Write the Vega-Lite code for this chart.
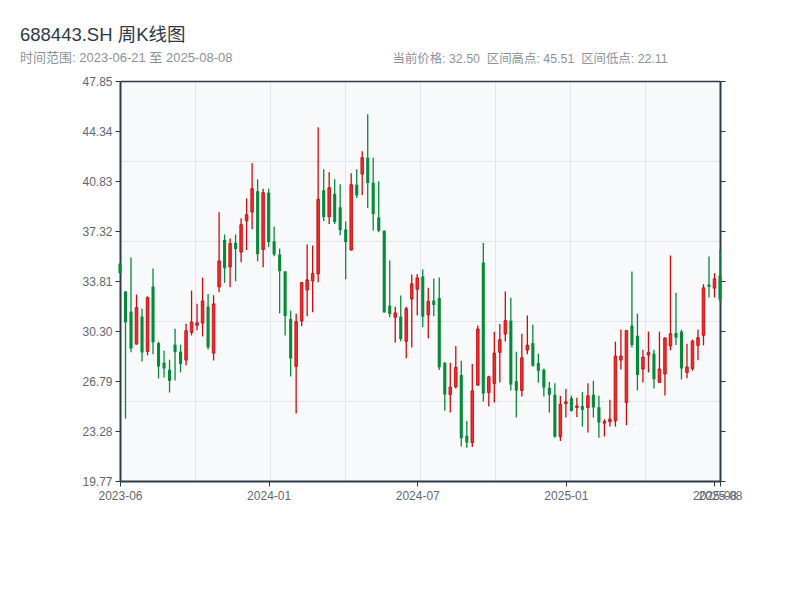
{
"$schema": "https://vega.github.io/schema/vega-lite/v6.json",
"width": 600, "height": 400,
"autosize": {"type": "none"},
"padding": {"left": 120, "top": 81, "right": 80, "bottom": 119},
"background": "#ffffff",
"title": {"text": "688443.SH 周K线图", "subtitle": "时间范围: 2023-06-21 至 2025-08-08", "anchor": "start", "frame": "group", "dx": -100, "offset": -13, "fontSize": 18.5, "fontWeight": "normal", "color": "#2c3a4b", "subtitleFontSize": 13, "subtitleColor": "#8b929c", "subtitlePadding": 8},
"data": {"values": [
{"date":"2023-06-21","open":35.01,"high":35.08,"low":34.30,"close":34.36},
{"date":"2023-06-30","open":33.07,"high":33.10,"low":24.15,"close":30.91},
{"date":"2023-07-07","open":31.66,"high":35.46,"low":28.80,"close":29.08},
{"date":"2023-07-14","open":29.38,"high":32.86,"low":29.35,"close":31.94},
{"date":"2023-07-21","open":31.31,"high":31.87,"low":28.16,"close":28.80},
{"date":"2023-07-28","open":28.87,"high":32.74,"low":28.59,"close":32.64},
{"date":"2023-08-04","open":33.42,"high":34.69,"low":28.66,"close":29.50},
{"date":"2023-08-11","open":29.45,"high":29.55,"low":26.97,"close":27.81},
{"date":"2023-08-18","open":28.07,"high":28.91,"low":27.04,"close":27.67},
{"date":"2023-08-25","open":27.58,"high":28.28,"low":25.98,"close":26.80},
{"date":"2023-09-01","open":29.34,"high":30.46,"low":26.83,"close":28.82},
{"date":"2023-09-08","open":28.84,"high":29.34,"low":27.39,"close":27.98},
{"date":"2023-09-15","open":28.26,"high":30.81,"low":27.88,"close":30.32},
{"date":"2023-09-22","open":30.20,"high":33.14,"low":29.99,"close":30.93},
{"date":"2023-09-28","open":30.70,"high":32.22,"low":30.35,"close":30.88},
{"date":"2023-10-13","open":30.86,"high":34.05,"low":29.92,"close":32.41},
{"date":"2023-10-20","open":32.01,"high":32.90,"low":29.01,"close":29.15},
{"date":"2023-10-27","open":28.75,"high":32.81,"low":28.23,"close":32.20},
{"date":"2023-11-03","open":33.39,"high":38.63,"low":33.02,"close":35.22},
{"date":"2023-11-10","open":36.70,"high":37.08,"low":33.68,"close":34.71},
{"date":"2023-11-17","open":34.80,"high":36.80,"low":33.37,"close":36.44},
{"date":"2023-11-24","open":36.49,"high":37.08,"low":33.79,"close":36.05},
{"date":"2023-12-01","open":35.84,"high":38.21,"low":35.13,"close":37.76},
{"date":"2023-12-08","open":38.04,"high":39.61,"low":35.98,"close":38.46},
{"date":"2023-12-15","open":38.65,"high":42.08,"low":37.45,"close":40.29},
{"date":"2023-12-22","open":40.11,"high":40.95,"low":35.20,"close":35.69},
{"date":"2023-12-29","open":36.02,"high":40.29,"low":34.78,"close":40.01},
{"date":"2024-01-05","open":40.01,"high":40.29,"low":36.19,"close":36.54},
{"date":"2024-01-12","open":36.59,"high":37.64,"low":35.55,"close":35.67},
{"date":"2024-01-19","open":35.67,"high":36.09,"low":31.54,"close":34.50},
{"date":"2024-01-26","open":34.48,"high":34.50,"low":29.99,"close":31.35},
{"date":"2024-02-02","open":31.14,"high":31.73,"low":27.11,"close":28.38},
{"date":"2024-02-08","open":27.81,"high":31.52,"low":24.50,"close":30.96},
{"date":"2024-02-23","open":31.00,"high":33.72,"low":30.63,"close":33.70},
{"date":"2024-03-01","open":33.18,"high":36.38,"low":31.33,"close":33.89},
{"date":"2024-03-08","open":33.82,"high":36.30,"low":31.61,"close":34.33},
{"date":"2024-03-15","open":34.31,"high":44.61,"low":33.72,"close":39.54},
{"date":"2024-03-22","open":40.18,"high":41.65,"low":38.02,"close":38.30},
{"date":"2024-03-29","open":38.32,"high":41.44,"low":37.81,"close":40.36},
{"date":"2024-04-03","open":39.92,"high":40.95,"low":37.81,"close":37.95},
{"date":"2024-04-12","open":38.98,"high":40.60,"low":37.03,"close":37.38},
{"date":"2024-04-19","open":37.43,"high":37.99,"low":33.94,"close":36.54},
{"date":"2024-04-26","open":35.98,"high":41.37,"low":35.95,"close":40.57},
{"date":"2024-04-30","open":40.57,"high":41.65,"low":39.64,"close":39.82},
{"date":"2024-05-10","open":41.32,"high":42.92,"low":39.85,"close":42.47},
{"date":"2024-05-17","open":42.47,"high":45.51,"low":38.93,"close":40.69},
{"date":"2024-05-24","open":40.71,"high":42.47,"low":37.36,"close":38.51},
{"date":"2024-05-31","open":38.27,"high":40.81,"low":37.24,"close":37.34},
{"date":"2024-06-07","open":37.34,"high":37.36,"low":31.58,"close":31.61},
{"date":"2024-06-14","open":32.08,"high":35.25,"low":31.26,"close":31.50},
{"date":"2024-06-21","open":31.26,"high":32.01,"low":29.50,"close":31.57},
{"date":"2024-06-28","open":31.31,"high":32.79,"low":29.58,"close":29.74},
{"date":"2024-07-05","open":29.58,"high":32.01,"low":28.38,"close":31.87},
{"date":"2024-07-12","open":32.55,"high":34.27,"low":29.15,"close":33.61},
{"date":"2024-07-19","open":33.23,"high":34.31,"low":31.38,"close":34.03},
{"date":"2024-07-26","open":34.13,"high":34.62,"low":30.56,"close":31.31},
{"date":"2024-08-02","open":31.43,"high":33.33,"low":29.79,"close":32.39},
{"date":"2024-08-09","open":32.44,"high":33.99,"low":31.33,"close":32.13},
{"date":"2024-08-16","open":32.62,"high":34.06,"low":27.56,"close":27.75},
{"date":"2024-08-23","open":28.07,"high":28.10,"low":24.70,"close":25.84},
{"date":"2024-08-30","open":25.84,"high":28.07,"low":24.58,"close":26.36},
{"date":"2024-09-06","open":26.38,"high":29.25,"low":26.27,"close":27.75},
{"date":"2024-09-13","open":27.21,"high":28.21,"low":22.19,"close":22.77},
{"date":"2024-09-20","open":22.94,"high":23.99,"low":22.11,"close":22.47},
{"date":"2024-09-27","open":22.47,"high":27.98,"low":22.15,"close":26.10},
{"date":"2024-09-30","open":26.50,"high":30.68,"low":26.45,"close":30.44},
{"date":"2024-10-11","open":35.11,"high":36.47,"low":25.35,"close":25.91},
{"date":"2024-10-18","open":25.98,"high":27.15,"low":25.00,"close":27.08},
{"date":"2024-10-25","open":26.62,"high":30.25,"low":25.28,"close":28.75},
{"date":"2024-11-01","open":28.80,"high":30.79,"low":26.69,"close":29.69},
{"date":"2024-11-08","open":30.09,"high":33.07,"low":29.57,"close":31.03},
{"date":"2024-11-15","open":31.03,"high":32.64,"low":26.12,"close":26.54},
{"date":"2024-11-22","open":26.78,"high":28.84,"low":24.22,"close":26.12},
{"date":"2024-11-29","open":26.12,"high":30.11,"low":25.70,"close":28.42},
{"date":"2024-12-06","open":28.96,"high":31.38,"low":28.66,"close":29.31},
{"date":"2024-12-13","open":29.45,"high":30.74,"low":27.79,"close":27.86},
{"date":"2024-12-20","open":28.05,"high":28.70,"low":26.69,"close":27.51},
{"date":"2024-12-27","open":27.58,"high":27.67,"low":25.70,"close":26.33},
{"date":"2025-01-03","open":26.31,"high":26.73,"low":24.57,"close":25.82},
{"date":"2025-01-10","open":25.82,"high":26.64,"low":22.81,"close":22.89},
{"date":"2025-01-17","open":22.89,"high":25.75,"low":22.58,"close":25.16},
{"date":"2025-01-24","open":25.21,"high":26.22,"low":24.22,"close":25.33},
{"date":"2025-01-27","open":25.58,"high":25.75,"low":24.65,"close":24.69},
{"date":"2025-02-07","open":24.93,"high":25.61,"low":24.27,"close":25.04},
{"date":"2025-02-14","open":25.04,"high":26.03,"low":23.59,"close":24.76},
{"date":"2025-02-21","open":24.93,"high":26.64,"low":23.17,"close":25.75},
{"date":"2025-02-28","open":25.82,"high":26.80,"low":24.22,"close":24.93},
{"date":"2025-03-07","open":24.95,"high":25.75,"low":22.81,"close":23.87},
{"date":"2025-03-14","open":23.83,"high":24.11,"low":22.89,"close":23.94},
{"date":"2025-03-21","open":23.94,"high":25.47,"low":23.59,"close":24.11},
{"date":"2025-03-28","open":23.99,"high":29.55,"low":23.59,"close":28.54},
{"date":"2025-04-03","open":28.26,"high":30.40,"low":27.60,"close":28.54},
{"date":"2025-04-11","open":25.28,"high":30.33,"low":23.69,"close":30.33},
{"date":"2025-04-18","open":30.68,"high":34.48,"low":29.15,"close":29.32},
{"date":"2025-04-25","open":29.97,"high":31.52,"low":26.13,"close":27.21},
{"date":"2025-04-30","open":27.63,"high":28.99,"low":26.69,"close":28.47},
{"date":"2025-05-09","open":28.61,"high":30.26,"low":27.39,"close":28.80},
{"date":"2025-05-16","open":28.71,"high":28.99,"low":26.27,"close":26.92},
{"date":"2025-05-23","open":26.69,"high":30.26,"low":26.64,"close":27.63},
{"date":"2025-05-30","open":27.28,"high":29.86,"low":25.77,"close":29.81},
{"date":"2025-06-06","open":29.25,"high":35.60,"low":28.94,"close":30.11},
{"date":"2025-06-13","open":30.16,"high":32.98,"low":29.32,"close":29.83},
{"date":"2025-06-20","open":30.26,"high":30.40,"low":26.90,"close":27.67},
{"date":"2025-06-27","open":27.39,"high":29.41,"low":26.99,"close":27.77},
{"date":"2025-07-04","open":27.67,"high":29.69,"low":27.51,"close":29.60},
{"date":"2025-07-11","open":29.29,"high":30.40,"low":28.24,"close":29.83},
{"date":"2025-07-18","open":30.00,"high":33.59,"low":29.29,"close":33.33},
{"date":"2025-07-25","open":33.56,"high":35.53,"low":32.65,"close":33.40},
{"date":"2025-08-01","open":33.31,"high":34.36,"low":32.65,"close":33.96},
{"date":"2025-08-08","open":34.20,"high":36.00,"low":32.32,"close":32.50}
]},
"transform": [{"window": [{"op": "row_number", "as": "idx"}]}],
"layer": [
{"mark": {"type": "rule", "strokeWidth": 1.3},
 "encoding": {
  "x": {"field": "idx", "type": "quantitative", "scale": {"domain": [1, 110], "nice": false, "zero": false, "padding": 0},
        "axis": {"orient": "bottom", "values": [1, 28, 55, 82, 109, 110], "labelExpr": "datum.value == 1 ? '2023-06' : datum.value == 28 ? '2024-01' : datum.value == 55 ? '2024-07' : datum.value == 82 ? '2025-01' : '2025-08'", "grid": false, "title": null, "domainWidth": 2, "domainColor": "#2d3a4a", "tickColor": "#2d3a4a", "tickSize": 5, "tickWidth": 1, "labelColor": "#5f6875", "labelFontSize": 12, "labelPadding": 4, "labelFlush": false, "labelOverlap": false}},
  "y": {"field": "low", "type": "quantitative", "scale": {"domain": [19.77, 47.85], "nice": false, "zero": false},
        "axis": {"orient": "left", "values": [19.77, 23.28, 26.79, 30.30, 33.81, 37.32, 40.83, 44.34, 47.85], "format": ".2f", "grid": false, "title": null, "domainWidth": 2, "domainColor": "#2d3a4a", "tickColor": "#2d3a4a", "tickSize": 5, "tickWidth": 1, "labelColor": "#5f6875", "labelFontSize": 12, "labelPadding": 3}},
  "y2": {"field": "high"},
  "color": {"condition": {"test": "datum.close >= datum.open", "value": "#d00a0a"}, "value": "#078a38"}
 }},
{"transform": [{"filter": "datum.close < datum.open"}],
 "mark": {"type": "bar", "width": 3.1, "color": "#078a38"},
 "encoding": {
  "x": {"field": "idx", "type": "quantitative",
        "axis": {"orient": "top", "values": [14.625, 28.25, 41.875, 55.5, 69.125, 82.75, 96.375], "grid": true, "gridColor": "#e1e4e9", "gridWidth": 1, "labels": false, "ticks": false, "domain": true, "domainColor": "#2d3a4a", "domainWidth": 1.5, "title": "当前价格: 32.50\u00a0 区间高点: 45.51\u00a0 区间低点: 22.11", "titleX": 272, "titleY": -23, "titleAlign": "left", "titleBaseline": "middle", "titleAngle": 0, "titleFontSize": 12.4, "titleFontWeight": "normal", "titleColor": "#8b929c"}},
  "y": {"field": "open", "type": "quantitative",
        "axis": {"orient": "right", "values": [19.77, 23.28, 26.79, 30.30, 33.81, 37.32, 40.83, 44.34, 47.85], "labels": false, "ticks": true, "tickSize": 5, "tickColor": "#2d3a4a", "grid": false, "title": null, "domainWidth": 2, "domainColor": "#2d3a4a"}},
  "y2": {"field": "close"}
 }},
{"transform": [{"filter": "datum.close >= datum.open"}],
 "mark": {"type": "bar", "width": 2.6, "fill": "#ef2b2b", "stroke": "#c80000", "strokeWidth": 0.8},
 "encoding": {
  "x": {"field": "idx", "type": "quantitative", "axis": null},
  "y": {"field": "open", "type": "quantitative",
        "axis": {"orient": "left", "values": [25.386, 31.002, 36.618, 42.234], "grid": true, "gridColor": "#e1e4e9", "gridWidth": 1, "labels": false, "ticks": false, "domain": false, "title": null}},
  "y2": {"field": "close"}
 }}
],
"resolve": {"axis": {"x": "independent", "y": "independent"}},
"config": {
  "font": "'Liberation Sans', 'Noto Sans CJK SC', sans-serif",
  "view": {"fill": "#f7f9fb", "stroke": null}
}
}
